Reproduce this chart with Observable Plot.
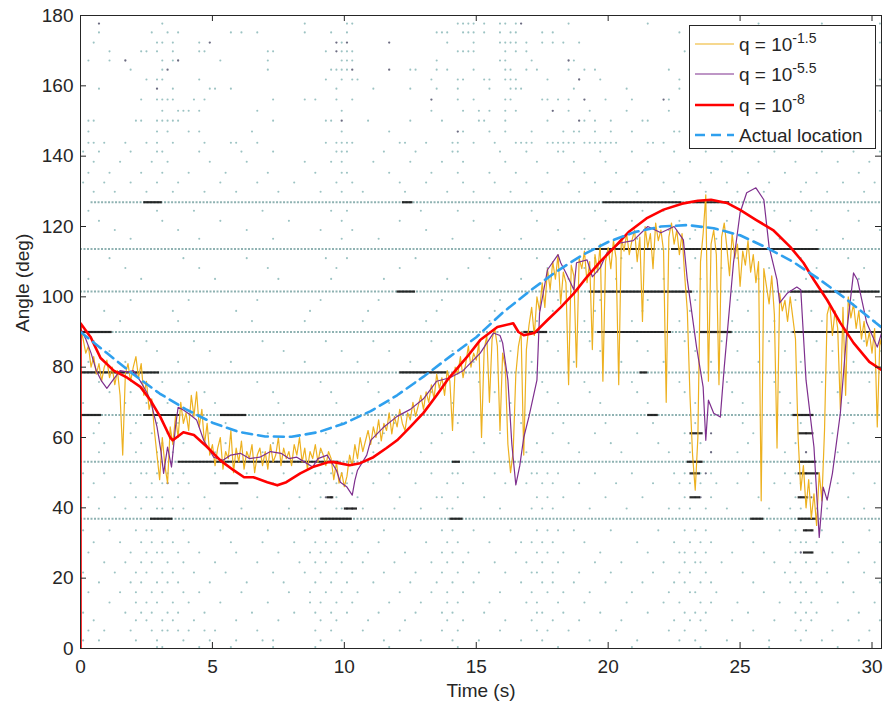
<!DOCTYPE html>
<html><head><meta charset="utf-8">
<script src="https://cdn.jsdelivr.net/npm/d3@7"></script>
<script src="https://cdn.jsdelivr.net/npm/@observablehq/plot@0.6"></script>
<style>
body{margin:0;background:#fff}
#wrap{position:relative;width:883px;height:711px}
#legend{position:absolute;left:689px;top:25px;width:187px;height:124px;border:1px solid #262626;background:#fff;box-sizing:border-box;font-family:"Liberation Sans",Arial,Helvetica,sans-serif;font-size:19px;color:#262626}
#legend .row{position:absolute;left:0;height:30px;width:100%}
#legend svg{position:absolute;left:5px;top:0}
#legend .lab{position:absolute;left:49px;top:4px;white-space:nowrap}
#legend sup{font-size:14px;position:relative;top:-2px;vertical-align:6px;line-height:0}
</style>
</head><body>
<div id="wrap"></div>
<script>
// ---------- data ----------
const xTicks = [0, 5, 10, 15, 20, 25, 30];
const yTicks = [0, 20, 40, 60, 80, 100, 120, 140, 160, 180];
const seriesNames = ["q = 10^-1.5", "q = 10^-5.5", "q = 10^-8", "Actual location"];

// q = 10^-1.5 estimate, one value every 0.1 s from t = 0
const orangeStep = 0.1;
const orangeValues = [
91,88,84,86,80,83,78,81,76,80,
82,77,80,75,79,72,55,78,81,76,
80,83,77,81,72,76,68,71,62,55,
48,60,52,47,63,58,66,60,70,64,
67,62,72,66,73,63,68,58,64,55,
58,52,57,60,51,56,54,62,50,57,
53,59,51,56,54,58,50,55,57,52,
56,51,58,53,55,60,52,57,54,56,
52,58,55,60,53,57,51,56,54,58,
53,57,55,52,56,54,48,53,47,50,
46,49,55,52,58,54,60,56,59,62,
58,63,60,65,59,64,62,67,61,66,
63,68,64,62,67,65,70,66,69,72,
68,73,70,75,71,78,74,77,72,79,
76,62,80,78,83,77,81,86,80,84,
82,87,60,85,89,70,88,91,86,62,
84,80,58,50,56,78,86,90,55,85,
92,97,89,100,96,104,97,108,102,110,
105,112,98,107,104,75,109,106,80,111,
108,113,104,110,85,112,107,115,76,110,
114,108,116,111,75,117,113,118,112,116,
119,110,117,93,120,114,118,108,121,116,
119,113,70,117,121,115,119,112,118,106,
96,72,55,45,60,110,118,129,76,115,
119,112,75,117,121,114,106,118,111,115,
103,113,109,116,107,112,104,110,42,108,
103,98,106,95,57,101,96,99,93,100,
94,88,60,45,52,40,48,37,44,35,
50,42,62,95,98,89,96,91,68,97,
72,100,94,98,91,96,88,93,86,90,
84,91,63,88,85
];

// q = 10^-5.5
const purpleT = [0,0.2,0.4,0.6,0.8,1.0,1.2,1.5,1.8,2.0,2.27,2.5,2.65,2.9,3.05,3.15,3.3,3.45,3.6,3.7,3.9,4.17,4.4,4.67,5.05,5.4,5.7,6.06,6.4,6.8,7.2,7.6,7.9,8.2,8.5,8.8,9.0,9.35,9.7,9.85,10.1,10.3,10.4,10.5,10.85,11.0,11.5,12.0,12.5,13.0,13.5,14.0,14.5,15.15,15.65,15.9,16.0,16.2,16.35,16.5,16.65,16.8,17.0,17.3,17.4,17.7,18.1,18.2,18.4,18.7,18.8,19.2,19.4,19.7,19.95,20.45,20.95,21.5,22.0,22.5,22.85,23.0,23.35,23.6,23.7,23.8,24.0,24.25,24.4,24.75,25.0,25.25,25.6,25.9,26.1,26.4,26.5,26.8,27.15,27.3,27.5,27.8,28.0,28.15,28.3,28.5,28.8,29.05,29.3,29.45,29.8,30.2,30.36];
const purpleV = [91,88,84,79,76,74,76,79,78.6,79,76,73,70.6,63,56,49.8,57.3,51.6,63,68.6,67.8,66.4,65,59.2,54.4,53.5,55,55.5,54,54.4,56,55.5,54,54.4,53,51.6,54,55,50.7,47.3,45.9,43.6,47.8,50.7,55,59.2,63,66,68,71,76,77,79,84,89.7,89,86.9,76.3,58,46.5,52,60,66,76.3,95.4,107.7,112,109.7,106.8,102,109.7,110.5,105.7,108.3,112.5,115.3,116,120,118.2,120,116.2,104.8,85.7,74.3,59.2,70.6,66.9,65.8,80,109.7,123.9,129.6,131,127.6,114.2,104.8,98.3,101.1,102.8,102,76.3,57.3,31.6,45.9,42.2,49.8,66.9,90.6,106.8,104.8,92.6,85.7,89.7];

// q = 10^-8
const redT = [0,0,0.38,0.76,1.26,1.77,2.27,2.65,3.03,3.4,3.5,3.9,4.3,4.8,5.3,5.8,6.2,6.55,7.08,7.46,7.8,8.33,8.8,9.4,9.6,10.2,10.6,11.1,11.6,12.0,12.5,13.0,13.5,13.9,14.65,15.15,15.8,16.4,16.6,16.8,17.2,17.7,18.2,18.7,19.2,19.7,20.25,20.8,21.45,22.1,22.8,23.4,23.9,24.5,25.0,25.6,26.25,26.9,27.4,27.8,28.3,28.8,29.3,29.9,30.36];
const redV = [0,92.5,88.6,82.6,79,77,74.4,70.6,65.8,60,59.2,61.5,60.7,57.3,53.5,50.7,48.7,48.7,47.3,46.4,47.3,49.8,51.6,53,53,52.1,52.7,54.4,57,59.2,63,67,72,76.3,82.9,87.7,91.4,92.5,90,89.1,89.7,93.4,97,101,105.7,110,114.2,118.6,122.3,124.8,126.5,127.3,127.6,126.7,124.7,121.9,119,114.2,109.7,104.8,99.1,92.6,86.9,81.5,79.2];

// Actual location
const actualT = [0,1,2,3,4,5,6,7,8,9,10,11,12,13,14,15,16,17,18,19,20,21,22,23,24,25,26,27,28,29,30,30.36];
const actualV = [90,84,78,72.5,68,64.2,61.6,60.3,60.2,61.5,64,67.5,72,77.3,83,88.5,95.5,101.5,107,111.8,115.6,118.4,120,120.4,119.5,117.5,114,110,105,99.5,93.5,91.3];

// background detections: rows of angle + time-cell indices (0.2 s cells, "*" = dark)
const dotStep = 0.2;
const dotRows = [
[177.7,"3* 15 42 50 51 71 72 73 74 76 79 80 82 83* 92 107 128 140 151"],
[175.2,"3 13 16 18 28 30 33 42 47 50 67 68 69 72 73 74 76 79 81 82 87 89 113"],
[172.3,"2 14 15 17 22 24* 48* 49 50* 58* 69 74 79 80 81 82 84 87 89 91 94 151"],
[169.8,"5 11 12 14 17 22 23 35 36 46 48* 49 50 51 71 72 73 74 80 82 84 114"],
[167.2,"1 5 8* 15 17 18* 26 35 49 50 51 67 79 80 85 92* 93"],
[164.6,"9 15 16* 35 47 48 49 50 51* 58* 62 63 67 69 74 80 81 84 86 92 95 97 111"],
[161.8,"12 14 15 22 46 49 51 52 66 71 72 76 77 80 81 82 88 94* 98 113 151"],
[159.2,"3 14* 17 24 25 28 48 55 62 67 71 77 81 82 83 93 103 113"],
[156.1,"11 14 15 16 17 21 23 36 42 44 48 51 66* 71 74 80 81 87 88 90 92 95* 99 104 110* 111"],
[152.9,"15 18 19 20 22 33 49 66 72 75 77 80 82 89* 92 96 103 111 151"],
[150.1,"1 2 10 11 14 15 16 17 18 36 46 47 49* 54 62 68 75 76 80 88 94* 95 97 100 106 107"],
[147.0,"1 14 16 20 22 32 49 58 71* 72 77 80 85 91 93 94 97 100 104 112 113"],
[143.8,"1 2 4 8 12 14 17 23 28 29 33 46 48 49 50 51 60 61 65 70 71 74 78 82 83 84 85 88 89 90 91 92 93 95 96 97 98 99 100 101 107 108 110"],
[141.3,"0 3 9 14 15 22 30 36 48 49 50 57 63 70 71 79 84 90 91 98 104 112 118 123 131 140 146 151"],
[138.4,"2 7 13 16 24 31 42 47 49 55 62 68 72 80 86 93 99 107 115 121 128 135 143 149"],
[135.3,"1 5 11 15 20 27 35 44 49 50 58 66 71 77 82 88 95 101 106 113 119 126 133 139 147"],
[132.5,"0 4 9 14 18 26 33 40 48 51 60 65 72 78 84 92 97 103 110 117 122 130 137 144 150"],
[129.9,"2 6 12 17 23 29 37 45 49 53 61 69 74 81 87 94 100 105 112 118 124 129 136 141 148"],
[124.5,"1 14 21 34 47 50 64 71 85 97 106 110 119 131 138 145"],
[121.6,"3 15 26 39 49 60 74 86 99 104 113 122 134 147"],
[119.0,"6 18 31 45 51 65 79 90 101 111 116 127 139 151"],
[116.5,"9 22 36 49 56 70 83 95 105 115 120 132 144"],
[111.0,"5 19 31 46 50 63 77 86 97 102 108 116 124 136 145"],
[108.2,"8 22 35 48 60 73 88 95 104 113 121 130 139 148"],
[105.1,"1 11 25 37 47 57 69 83 92 101 110 117 128 137 147"],
[99.1,"9 20 33 45 56 68 79 90 98 107 116 124 135 146"],
[96.0,"4 17 29 43 54 67 78 89 97 106 115 126 138 149"],
[93.1,"7 18 32 42 53 65 77 86 95 104 113 123 131 140 150"],
[87.4,"2 12 21 34 46 55 66 79 88 96 105 114 121 130 139 148"],
[84.6,"5 14 24 38 49 58 70 81 90 98 107 116 124 133 142 151"],
[81.5,"1 8 18 28 42 52 62 74 85 93 102 110 119 128 136 146"],
[75.8,"3 11 15 20 33 45 54 63 75 87 95 104 113 122 131 140 149"],
[72.9,"5 9 14 23 36 47 56 66 78 88 96 105 114 123 132 143"],
[69.8,"0 8 12 16 25 37 48 58 70 81 90 98 107 116 125 134 145"],
[64.1,"3 10 14 18 27 38 49 59 71 83 91 99 108 116 125 136 146"],
[61.2,"2 9 13 16 24 35 46 57 68 79 89 97 105 114 118 119* 127 137* 142"],
[58.4,"4 11 15 19 27 36 48 56 66 76 86 92 100 109 115 117 126 135 145"],
[55.8,"3 10 14 17 25 34 45 55 64 74 84 87 94 102 111 115 119* 124 133 137* 143"],
[49.8,"0 4 11 12 14 16 17 19 25 31 38 44 45 47 49 51 58 66 70 71 78 85 86 88 90 97 104 112 114 116 117 118* 119 126 133 135 136 137* 139 146"],
[47.0,"2 9 13 15 16* 18 20 27 29 36 43 46 48 50 55 63 69 72 80 84 87 89 94 101 108 113 115 117 120 124 131 134 136 138 143 150"],
[43.0,"1 6 10 12 13 15 18 23 33 41 45 46* 47* 48 52 60 67 68 71 76 86 88 91 99 106 114 116 117* 119 128 135 136 137 138* 145"],
[39.8,"3 8 11 14 15 17 19 24 30 39 44 48 49 50* 51* 53 59 64 69 70 79 85 87 89 96 103 111 113 115 118 122 130 134 136 139 141 148"],
[33.6,"0 5 10 12 13 16 19 26 35 42 45 47 49 52 57 62 68 70 74 81 86 88 90 93 100 109 114 116 118 125 132 135 137* 138 140 149"],
[30.2,"2 7 11 13 15 17 20 28 34 40 44 46 48 51 56 65 69 71 77 83 85 87 89 95 105 112 115 117 119 127 134 136 137 139 144 151"],
[27.3,"1 9 12 14 15 18 22 29 37 43 45 47 50 54 61 68 70 73 82 86 88 91 98 107 113 114 116 118 123 129 135 136* 138 142 147"],
[24.5,"4 8 11 13 16 19 25 33 41 44 46 49 53 59 66 69 72 78 84 87 90 97 102 110 114 116 117 121 131 134 137 139 145 150"],
[21.6,"0 6 10 12 15 17 21 27 36 42 45 48 51 57 63 68 71 75 80 85 86 89 94 100 108 113 115 118 125 133 135 138 141 148"],
[18.8,"3 9 11 14 16 18 24 31 38 44 47 50 55 62 67 70 74 83 87 89 93 99 106 112 114 117 119 127 134 136 139 144 151"],
[16.0,"1 7 10 13 15 19 22 30 39 43 46 49 52 60 66 69 72 79 85 88 91 96 104 111 115 116 120 129 135 137 140 146"],
[13.1,"5 10 12 14 17 20 26 35 43 45 48 51 58 64 69 71 77 84 86 90 95 103 110 113 117 119 124 132 136 138 143 150"],
[10.2,"0 8 11 13 16 18 23 32 40 44 47 50 56 63 68 70 76 86 87 91 98 107 114 116 118 126 135 137 139 147"],
[8.0,"2 10 12 15 17 21 29 37 45 48 54 61 69 72 80 85 89 94 102 112 115 117 123 131 136 138 145 151"],
[5.1,"1 4 9 13 15 16 18 20 23 25 33 44 47 53 60 68 71 79 86 88 92 101 111 114 118 127 135 137 142 149"],
[2.3,"0 3 10 14 19 24 29 34 36 45 49 57 64 70 75 83 87 96 105 113 116 122 130 136 140 147"],
[0.4,"14 15 22 28 36 44 58 71 90 104 117 130 143"]
];
// dense detection bands: [angle, t start, t end]
const lightBands = [
[126.9,0.4,30.36],[113.6,0,30.36],[101.5,0,30.36],[90,0,30.36],
[78.5,0,30.36],[66.4,0,30.36],[53.1,0,30.36],[36.9,0,30.36]
];
const darkBands = [
[126.9,2.4,3.1],[126.9,12.2,12.6],[126.9,19.8,22.8],[126.9,23.2,24.6],
[113.6,19.5,21.8],[113.6,22.4,28.0],
[101.5,12.0,12.7],[101.5,19.3,23.2],[101.5,26.9,30.3],
[90,0,1.2],[90,16.8,17.7],[90,19.6,22.4],[90,23.5,24.7],[90,27.0,30.36],
[78.5,0,1.9],[78.5,2.0,3.0],[78.5,12.1,13.9],[78.5,21.2,21.5],
[66.4,0,0.8],[66.4,2.4,3.8],[66.4,5.3,6.3],[66.4,21.5,21.9],[66.4,27.0,27.8],
[61.2,23.1,23.6],[61.2,27.2,27.8],
[53.1,3.7,9.8],[53.1,14.1,14.4],[53.1,23.0,23.6],[53.1,27.2,27.9],
[49.8,23.1,23.5],[49.8,27.2,28.0],
[47.0,5.3,6.0],[43.0,9.35,9.6],[43.0,23.1,23.5],[43.0,27.2,27.6],
[39.8,10.0,10.5],
[36.9,2.65,3.5],[36.9,9.1,10.3],[36.9,14.0,14.5],[36.9,25.4,25.9],[36.9,27.2,27.9],
[33.6,27.4,27.8],[27.3,27.4,27.8]
];

// ---------- build tables ----------
const orange = orangeValues.map((v, i) => ({t: i * orangeStep, v}));
const purple = purpleT.map((t, i) => ({t, v: purpleV[i]}));
const red = redT.map((t, i) => ({t, v: redV[i]}));
const actual = actualT.map((t, i) => ({t, v: actualV[i]}));
const dots = [];
for (const [a, s] of dotRows) {
  for (const tok of s.trim().split(/\s+/)) {
    const c = parseFloat(tok);
    const t = (c + 0.5) * dotStep;
    if (t <= 30.36) dots.push({t, a, dark: tok.endsWith("*")});
  }
}

// ---------- layout ----------
const W = 883, H = 711, ML = 80, MR = 2, MT = 15, MB = 63;
const FW = W - ML - MR, FH = H - MT - MB, TICK = 6;
const axisColor = "#262626";
const font = "'Liberation Sans', Arial, Helvetica, sans-serif";

const chart = Plot.plot({
  width: W, height: H,
  marginLeft: ML, marginRight: MR, marginTop: MT, marginBottom: MB,
  x: {domain: [0, 30.36]},
  y: {domain: [0, 180]},
  style: {fontFamily: font, fontSize: "19px", color: axisColor, background: "#fff", overflow: "visible"},
  marks: [
    Plot.ruleY(lightBands, {y: d => d[0], x1: d => d[1], x2: d => d[2], stroke: "#8fb2b2", strokeWidth: 2, strokeDasharray: "2,1.5"}),
    Plot.dot(dots.filter(d => !d.dark), {x: "t", y: "a", r: 1.05, fill: "#9cc3c3", stroke: "none"}),
    Plot.dot(dots.filter(d => d.dark), {x: "t", y: "a", r: 1.15, fill: "#6c6c82", stroke: "none"}),
    Plot.ruleY(darkBands, {y: d => d[0], x1: d => d[1], x2: d => d[2], stroke: "#151515", strokeWidth: 2.2, strokeOpacity: 0.9}),
    Plot.line(orange, {x: "t", y: "v", stroke: "#EDB120", strokeWidth: 1.2, clip: true}),
    Plot.line(purple, {x: "t", y: "v", stroke: "#7E2F8E", strokeWidth: 1.2, clip: true}),
    Plot.line(red, {x: "t", y: "v", stroke: "#FF0000", strokeWidth: 2.6, clip: true}),
    Plot.line(actual, {x: "t", y: "v", stroke: "#2FA0EE", strokeWidth: 2.6, strokeDasharray: "10,6", clip: true}),
    Plot.frame({stroke: axisColor, strokeWidth: 1}),
    Plot.tickX(xTicks, {x: d => d, insetTop: FH - TICK, stroke: axisColor}),
    Plot.tickX(xTicks, {x: d => d, insetBottom: FH - TICK, stroke: axisColor}),
    Plot.tickY(yTicks, {y: d => d, insetRight: FW - TICK, stroke: axisColor}),
    Plot.tickY(yTicks, {y: d => d, insetLeft: FW - TICK, stroke: axisColor}),
    Plot.axisX(xTicks, {tickSize: 0, tickPadding: 11, label: null, fontSize: 19, fill: axisColor}),
    Plot.axisY(yTicks, {tickSize: 0, tickPadding: 7, label: null, fontSize: 19, fill: axisColor}),
    Plot.text(["Time (s)"], {frameAnchor: "bottom", dy: 48, fontSize: 19, fill: axisColor}),
    Plot.text(["Angle (deg)"], {frameAnchor: "left", dx: -58, rotate: -90, fontSize: 19, fill: axisColor})
  ]
});
const wrap = document.getElementById("wrap");
wrap.appendChild(chart);

// ---------- legend ----------
const legendStyles = [
  {stroke: "#EDB120", width: 1.2, dash: null},
  {stroke: "#7E2F8E", width: 1.2, dash: null},
  {stroke: "#FF0000", width: 2.6, dash: null},
  {stroke: "#2FA0EE", width: 2.6, dash: "10,6"}
];
const leg = document.createElement("div");
leg.id = "legend";
const rowTops = [4, 34, 65, 95];
seriesNames.forEach((name, i) => {
  const row = document.createElement("div");
  row.className = "row";
  row.style.top = rowTops[i] + "px";
  const s = legendStyles[i];
  const svg = `<svg width="40" height="30"><line x1="0" x2="39" y1="14" y2="14" stroke="${s.stroke}" stroke-width="${s.width}" ${s.dash ? `stroke-dasharray="${s.dash}"` : ""}/></svg>`;
  let label = name;
  const m = name.match(/^(.*)\^(.*)$/);
  if (m) label = `${m[1]}<sup>${m[2]}</sup>`;
  row.innerHTML = svg + `<span class="lab">${label}</span>`;
  leg.appendChild(row);
});
wrap.appendChild(leg);
</script>
</body></html>
